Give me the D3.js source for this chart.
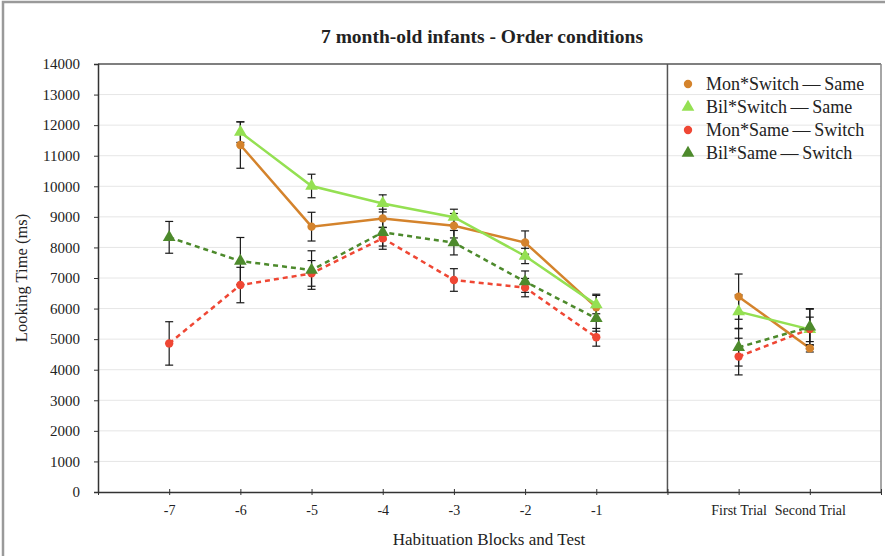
<!DOCTYPE html>
<html>
<head>
<meta charset="utf-8">
<script src="https://cdn.jsdelivr.net/npm/d3@7/dist/d3.min.js"></script>
<style>
  html, body { margin: 0; padding: 0; background: #fff; }
  svg text { font-family: "Liberation Serif", "DejaVu Serif", serif; fill: #222; }
</style>
</head>
<body>
<svg id="chart" width="885" height="556"></svg>
<script>
// ---- Data ----
const categories = ["-7", "-6", "-5", "-4", "-3", "-2", "-1", "First Trial", "Second Trial"];
const habituation = ["-7", "-6", "-5", "-4", "-3", "-2", "-1"];
const test = ["First Trial", "Second Trial"];
const yTicks = [0, 1000, 2000, 3000, 4000, 5000, 6000, 7000, 8000, 9000, 10000, 11000, 12000, 13000, 14000];

const monSwitchSame = [null, 11350, 8680, 8950, 8710, 8160, 6040, 6390, 4700];
const monSwitchSameErr = [null, 760, 470, 300, 400, 380, 430, 740, 120];
const bilSwitchSame = [null, 11770, 10010, 9440, 8990, 7720, 6130, 5900, 5320];
const bilSwitchSameErr = [null, 335, 385, 280, 260, 250, 300, 545, 400];
const monSameSwitch = [4860, 6770, 7150, 8300, 6935, 6685, 5060, 4430, 5330];
const monSameSwitchErr = [710, 580, 420, 360, 370, 300, 290, 600, 650];
const bilSameSwitch = [8330, 7555, 7260, 8495, 8155, 6880, 5680, 4730, 5400];
const bilSameSwitchErr = [520, 770, 630, 450, 400, 350, 420, 610, 600];

const seriesNames = ["Mon*Switch\u2009\u2014\u2009Same", "Bil*Switch\u2009\u2014\u2009Same", "Mon*Same\u2009\u2014\u2009Switch", "Bil*Same\u2009\u2014\u2009Switch"];

const series = [
  { name: seriesNames[0], values: monSwitchSame, err: monSwitchSameErr, color: "#d4832c", dash: null, shape: "circle" },
  { name: seriesNames[1], values: bilSwitchSame, err: bilSwitchSameErr, color: "#94e052", dash: null, shape: "triangle" },
  { name: seriesNames[2], values: monSameSwitch, err: monSameSwitchErr, color: "#ef4734", dash: "5,4", shape: "circle" },
  { name: seriesNames[3], values: bilSameSwitch, err: bilSameSwitchErr, color: "#4d8a2c", dash: "5,4", shape: "triangle" }
];

// ---- Layout ----
const svg = d3.select("#chart");
const L = 98, R = 881, T = 64, B = 492;

// slot positions: 0 = axis, 1..7 habituation, 8 = divider, 9..10 test, 11 = right edge
const slots = ["start", ...habituation, "divider", ...test, "end"];
const x = d3.scalePoint().domain(slots).range([L, R]);
const y = d3.scaleLinear().domain([0, 14000]).range([B, T]);

// outer frame
svg.append("rect").attr("x", 3).attr("y", 2).attr("width", 900).attr("height", 600)
  .attr("fill", "none").attr("stroke", "#9a9a9a").attr("stroke-width", 2.5);

// gridlines
svg.append("g").selectAll("line").data(yTicks.filter(d => d > 0 && d < 14000)).join("line")
  .attr("x1", L).attr("x2", R).attr("y1", d => y(d)).attr("y2", d => y(d))
  .attr("stroke", "#e6e6e6").attr("stroke-width", 1);

// plot border (top/right)
svg.append("line").attr("x1", L).attr("x2", R).attr("y1", T).attr("y2", T).attr("stroke", "#555").attr("stroke-width", 1.5);
svg.append("line").attr("x1", R).attr("x2", R).attr("y1", T).attr("y2", B).attr("stroke", "#888").attr("stroke-width", 1.5);

// divider
svg.append("line").attr("x1", x("divider")).attr("x2", x("divider")).attr("y1", T).attr("y2", B)
  .attr("stroke", "#555").attr("stroke-width", 1.5);

// y axis
const yAxis = svg.append("g").attr("transform", `translate(${L},0)`)
  .call(d3.axisLeft(y).tickValues(yTicks).tickSize(4).tickPadding(14).tickFormat(d3.format("d")));
yAxis.select(".domain").attr("stroke", "#333").attr("stroke-width", 1.5);
yAxis.selectAll(".tick line").attr("stroke", "#333");
yAxis.selectAll("text").attr("font-size", 15).attr("fill", "#222").style("font-family", "Liberation Serif");

// x axis
const xAxis = svg.append("g").attr("transform", `translate(0,${B})`)
  .call(d3.axisBottom(x).tickValues(slots).tickSize(3).tickSizeOuter(0).tickPadding(10)
    .tickFormat(d => categories.includes(d) ? d : ""));
xAxis.select(".domain").attr("stroke", "#333").attr("stroke-width", 1.5);
xAxis.selectAll(".tick line").attr("stroke", "#333").attr("y1", -3);
xAxis.selectAll("text").attr("font-size", 14).attr("fill", "#222").style("font-family", "Liberation Serif");

// titles
svg.append("text").attr("x", 482).attr("y", 43).attr("text-anchor", "middle")
  .attr("font-size", 19.5).attr("font-weight", "bold").text("7 month-old infants - Order conditions");
svg.append("text").attr("x", 489).attr("y", 545).attr("text-anchor", "middle")
  .attr("font-size", 17).text("Habituation Blocks and Test");
svg.append("text").attr("transform", `translate(27,278) rotate(-90)`).attr("text-anchor", "middle")
  .attr("font-size", 16.5).text("Looking Time (ms)");

// marks
const triangle = d3.symbol().type(d3.symbolTriangle).size(70);
const circle = d3.symbol().type(d3.symbolCircle).size(55);

const line = d3.line().defined(d => d.v != null).x(d => x(d.c)).y(d => y(d.v));

const lineLayer = svg.append("g");
const errLayer = svg.append("g");
const markLayer = svg.append("g");

series.forEach(s => {
  const pts = categories.map((c, i) => ({ c, v: s.values[i], e: s.err[i] }));
  const groups = [pts.filter(p => habituation.includes(p.c)), pts.filter(p => test.includes(p.c))];
  groups.forEach(g => {
    lineLayer.append("path").datum(g).attr("d", line)
      .attr("fill", "none").attr("stroke", s.color).attr("stroke-width", 2.5)
      .attr("stroke-dasharray", s.dash);
  });
  const valid = pts.filter(p => p.v != null);
  valid.forEach(p => {
    const cx = x(p.c);
    const g = errLayer.append("g").attr("stroke", "#1a1a1a").attr("stroke-width", 1.2);
    g.append("line").attr("x1", cx).attr("x2", cx).attr("y1", y(p.v + p.e)).attr("y2", y(p.v - p.e));
    [p.v + p.e, p.v - p.e].forEach(v => {
      g.append("line").attr("x1", cx - 4).attr("x2", cx + 4).attr("y1", y(v)).attr("y2", y(v));
    });
  });
  markLayer.selectAll(null).data(valid).join("path")
    .attr("d", s.shape === "circle" ? circle : triangle)
    .attr("transform", p => `translate(${x(p.c)},${y(p.v)})`)
    .attr("fill", s.color);
});

// legend
const legend = svg.append("g");
series.forEach((s, i) => {
  const ly = 84 + i * 23;
  legend.append("path").attr("d", s.shape === "circle" ? circle : triangle)
    .attr("transform", `translate(688,${ly})`).attr("fill", s.color);
  legend.append("text").attr("x", 706).attr("y", ly + 6).attr("font-size", 18).text(s.name);
});
</script>
</body>
</html>
